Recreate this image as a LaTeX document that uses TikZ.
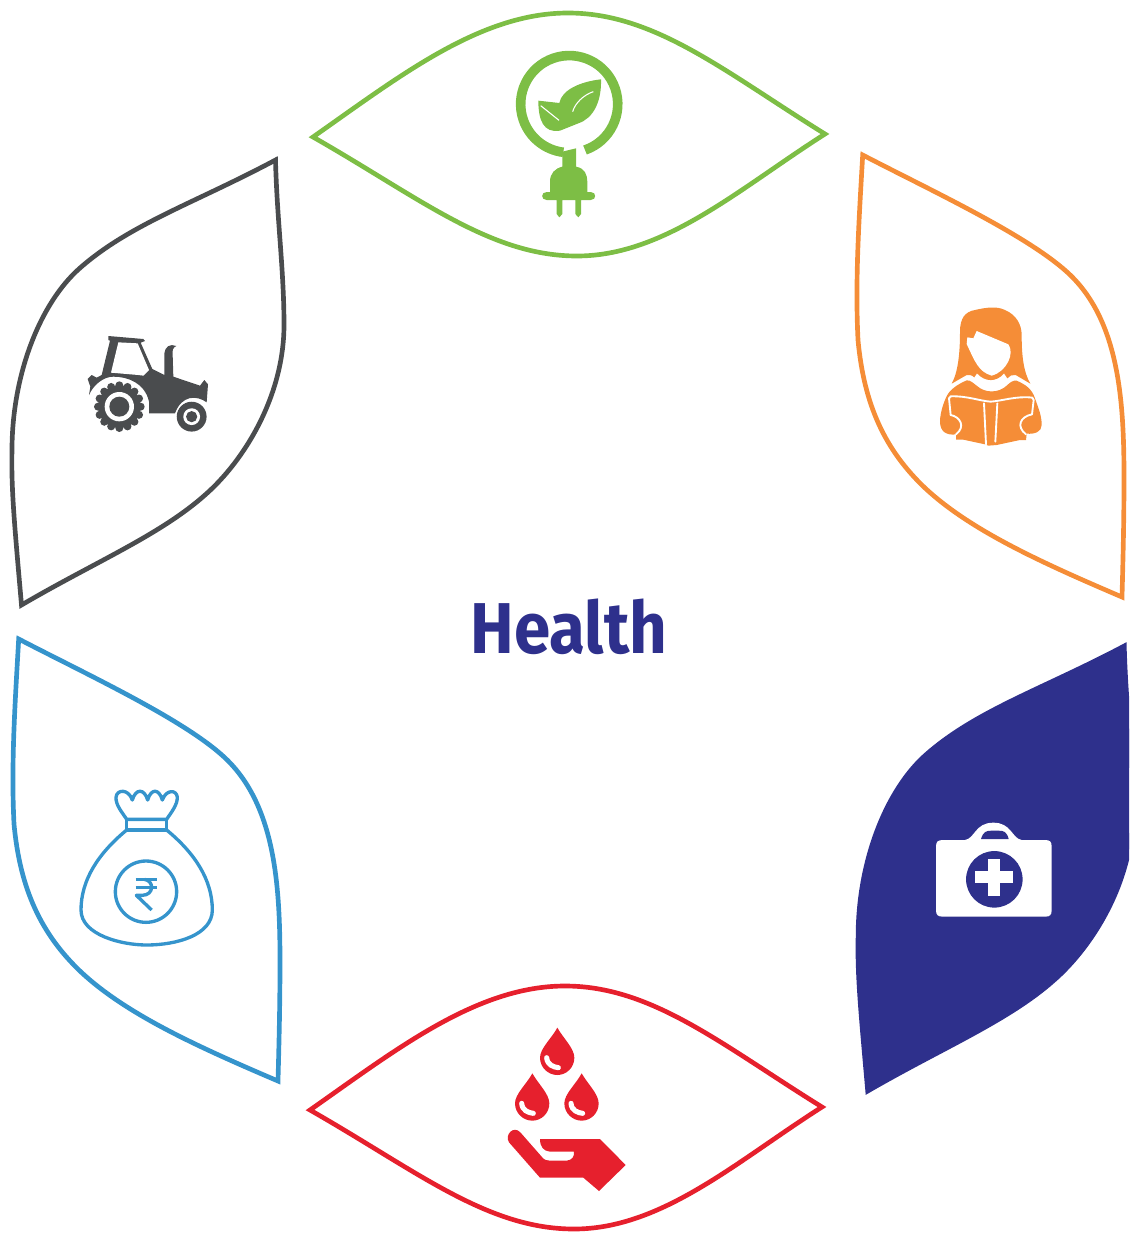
\documentclass[tikz,border=0pt]{standalone}
\usepackage{fontspec}
\setmainfont{Fira Sans}
\newfontfamily\titlefont[FakeStretch=0.91]{Fira Sans}
\definecolor{cgreen}{HTML}{7DBE45}
\definecolor{corange}{HTML}{F58D37}
\definecolor{cnavy}{HTML}{2E308C}
\definecolor{cred}{HTML}{E6202D}
\definecolor{cblue}{HTML}{3594CC}
\definecolor{cdark}{HTML}{4A4C4E}
\tikzset{
  petal/.style={line width=3.5pt,miter limit=20},
  moved/.style n args={2}{shift={(#1*0.75pt,-#2*0.75pt)}},
  zoomat/.style n args={2}{shift={(#1*0.75pt,-#2*0.75pt)},x=0.25pt,y=-0.25pt},
  whiteline/.style={draw=white,line width=1.4pt,line cap=round,line join=round}
}
\newcommand{\leafpetal}{(313,137) .. controls (400,76) and (480,13) .. (568,13)
  .. controls (655,13) and (725,72) .. (825,134)
  .. controls (740,188) and (665,256) .. (577,256)
  .. controls (490,256) and (420,198) .. (313,137) -- cycle}
\newcommand{\fallpetal}{(862.7,155) .. controls (930,190) and (1025,234) .. (1067,272)
  .. controls (1119,319) and (1124,400) .. (1124,478)
  .. controls (1124,520) and (1123,560) .. (1122,597)
  .. controls (1040,562) and (970,530) .. (925,488)
  .. controls (885,450) and (864,405) .. (858,340)
  .. controls (855,280) and (859,220) .. (862.7,155) -- cycle}
\newcommand{\risepetal}{(275.5,160) .. controls (277,220) and (284,270) .. (284,325)
  .. controls (284,395) and (245,460) .. (205,495)
  .. controls (160,535) and (95,562) .. (21.5,605)
  .. controls (15,530) and (11,490) .. (12,450)
  .. controls (12,375) and (40,303) .. (80,268)
  .. controls (130,224) and (195,203) .. (275.5,160) -- cycle}
\newcommand{\blooddrop}[2]{%
  \fill[cred] (#1,#2) .. controls (#1-17,#2+32) and (#1-52,#2+62) .. (#1-52,#2+90)
    .. controls (#1-52,#2+120) and (#1-27,#2+142) .. (#1,#2+142)
    .. controls (#1+27,#2+142) and (#1+51,#2+120) .. (#1+51,#2+90)
    .. controls (#1+51,#2+62) and (#1+18,#2+32) .. (#1,#2) -- cycle;
  \draw[white,line width=3.8pt,line cap=round] (#1-32,#2+90) .. controls (#1-30,#2+112) and (#1-12,#2+118) .. (#1+3,#2+120);
}
\begin{document}
\begin{tikzpicture}[x=0.75pt,y=-0.75pt]
\clip (0,0) rectangle (1129,1235);
% petals
\draw[petal,draw=cgreen] \leafpetal;
\draw[petal,draw=cred,moved={-3}{973}] \leafpetal;
\draw[petal,draw=corange] \fallpetal;
\draw[petal,draw=cblue,moved={-844}{484}] \fallpetal;
\draw[petal,draw=cdark] \risepetal;
\fill[petal,draw=cnavy,fill=cnavy,moved={846}{486},xscale=1.01] \risepetal;
% title
\node[text=cnavy,font=\titlefont\fontsize{54}{60}\selectfont\bfseries,inner sep=0pt] (title) at (569,627) {Health};
% green plug icon
\begin{scope}[zoomat={500}{40}]
  \draw[cgreen,line width=7.2pt] (255,330) arc[start angle=-71,end angle=263,radius=36.4pt];
  \fill[cgreen] (187,335) -- (228,325) -- (228,380)
    .. controls (255,385) and (262,405) .. (262,425) -- (262,456) -- (272,456)
    .. controls (290,456) and (290,480) .. (272,480) -- (243,480) -- (243,522) -- (235,532) -- (226,522) -- (226,480)
    -- (187,480) -- (187,522) -- (178,532) -- (170,522) -- (170,480) -- (140,480)
    .. controls (122,480) and (122,456) .. (140,456) -- (150,456) -- (150,425)
    .. controls (150,400) and (165,385) .. (187,380) -- cycle;
  \fill[cgreen] (115,182) -- (178,189) .. controls (185,150) and (240,125) .. (303,118)
    .. controls (305,185) and (280,235) .. (235,250) -- (180,272)
    .. controls (130,280) and (115,240) .. (115,182) -- cycle;
  \draw[white,line width=.8pt] (122,197) -- (177,241);
  \draw[white,line width=.8pt] (218,215) .. controls (225,190) and (250,165) .. (280,155);
\end{scope}
% orange reader icon
\begin{scope}[zoomat={850}{145}]
  \fill[corange] (305,716) .. controls (325,680) and (330,620) .. (330,560)
    .. controls (330,520) and (345,500) .. (375,495)
    .. controls (410,487) and (440,483) .. (465,495)
    .. controls (500,510) and (515,540) .. (515,570)
    .. controls (515,630) and (520,680) .. (541,716)
    -- (497,690) .. controls (488,688) and (478,692) .. (472,700)
    -- (462,685) .. controls (440,712) and (405,712) .. (381,685)
    -- (373,697) .. controls (365,690) and (355,688) .. (350,690) -- cycle;
  \fill[white] (350,597) -- (352,577) -- (370,580) -- (380,558) -- (475,598)
    .. controls (495,625) and (470,680) .. (425,692)
    .. controls (385,680) and (375,650) .. (350,597) -- cycle;
  \fill[corange] (295,745) .. controls (310,725) and (330,715) .. (350,706)
    .. controls (362,705) and (370,715) .. (380,722)
    .. controls (405,745) and (445,745) .. (470,722)
    .. controls (480,712) and (490,705) .. (500,707)
    .. controls (525,718) and (545,730) .. (555,760)
    .. controls (565,790) and (575,810) .. (575,840)
    .. controls (575,860) and (555,868) .. (530,866)
    -- (528,885) -- (510,885) -- (440,900) -- (415,902) -- (405,898) -- (340,884) -- (318,884) -- (318,868)
    .. controls (290,872) and (270,860) .. (270,830)
    .. controls (270,800) and (285,760) .. (295,745) -- cycle;
  \draw[whiteline] (302,810) -- (297,760) -- (302,754)
    .. controls (350,752) and (390,768) .. (422,770)
    .. controls (455,768) and (500,752) .. (547,758) -- (551,765) -- (546,808);
  \draw[whiteline] (302,810) .. controls (330,815) and (348,845) .. (318,868);
  \draw[whiteline] (546,808) .. controls (510,815) and (498,845) .. (528,868);
  \draw[whiteline] (402,775) -- (408,898);
  \draw[whiteline] (442,775) -- (436,890);
\end{scope}
% medical kit icon
\begin{scope}[zoomat={920}{810}]
  \fill[white] (70,90) -- (135,90) .. controls (165,85) and (165,38) .. (220,38)
    .. controls (275,38) and (275,85) .. (305,90) -- (375,90)
    .. controls (390,90) and (395,95) .. (395,110) -- (395,300)
    .. controls (395,315) and (390,320) .. (375,320) -- (70,320)
    .. controls (53,320) and (48,315) .. (48,300) -- (48,110)
    .. controls (48,95) and (53,90) .. (70,90) -- cycle;
  \fill[cnavy] (183,87) .. controls (190,65) and (198,62) .. (215,62) -- (235,62)
    .. controls (252,62) and (260,65) .. (266,87) -- cycle;
  \fill[cnavy] (223,208) circle[radius=21.2pt];
  \fill[white] (205,147) rectangle (240,258);
  \fill[white] (165,184) rectangle (280,220);
\end{scope}
% blood icon
\begin{scope}[zoomat={495}{1015}]
  \blooddrop{187}{38}
  \blooddrop{112}{175}
  \blooddrop{260}{175}
  \fill[cred] (135,372) -- (315,372) -- (392,450) -- (312,528) -- (265,488) -- (135,488)
    -- (42,382) .. controls (28,360) and (55,330) .. (76,352)
    -- (140,425) .. controls (148,435) and (155,437) .. (165,437)
    -- (215,437) .. controls (232,435) and (238,425) .. (237,410)
    -- (165,410) .. controls (145,408) and (135,395) .. (135,372) -- cycle;
\end{scope}
% money bag icon
\begin{scope}[zoomat={65}{780},draw=cblue,line width=2.5pt,line join=round]
  \draw (185,118) .. controls (170,95) and (152,75) .. (153,52)
    .. controls (155,28) and (190,25) .. (202,60)
    .. controls (212,25) and (238,25) .. (248,60)
    .. controls (258,25) and (282,25) .. (292,60)
    .. controls (303,28) and (335,28) .. (337,52)
    .. controls (337,75) and (320,95) .. (305,118) -- cycle;
  \draw (185,118) rectangle (305,150);
  \draw (185,150) .. controls (100,220) and (48,300) .. (48,390)
    .. controls (48,465) and (170,495) .. (245,495)
    .. controls (335,495) and (442,465) .. (442,390)
    .. controls (442,300) and (390,220) .. (305,150);
  \draw (243,335) circle[radius=23pt];
  \draw (212,298) -- (276,298) (212,322) -- (276,322);
  \draw (238,298) .. controls (268,302) and (268,345) .. (232,346) -- (214,346) -- (260,390);
\end{scope}
% tractor icon
\begin{scope}[zoomat={75}{325}]
  \fill[cdark] (100,33) -- (205,42) -- (210,48) -- (197,53) -- (232,132) -- (268,150) -- (268,85)
    .. controls (270,65) and (285,55) .. (304,63)
    .. controls (292,68) and (292,78) .. (293,90) -- (295,155) -- (375,182) -- (388,165) -- (399,178) -- (395,232)
    .. controls (365,210) and (320,210) .. (300,265) -- (222,265) -- (222,230)
    .. controls (210,175) and (160,155) .. (115,155)
    .. controls (85,155) and (55,180) .. (42,210)
    -- (46,185) -- (38,162) -- (50,150) -- (65,158) -- (80,150) -- (105,47) -- (100,45) -- cycle;
  \fill[white] (130,52) -- (188,55) -- (222,135) -- (205,152) -- (190,150) -- (108,143) -- cycle;
  \fill[cdark] (133,245) circle[radius=16pt];
  \foreach \a in {0,22.5,...,337.5} {
    \fill[cdark] (133,245) ++(\a:64) circle[radius=3pt];
  }
  \fill[white] (133,245) circle[radius=11pt];
  \fill[cdark] (133,245) circle[radius=7.5pt];
  \fill[cdark] (350,275) circle[radius=11.2pt];
  \fill[white] (350,275) circle[radius=6.3pt];
  \fill[cdark] (350,275) circle[radius=4.2pt];
\end{scope}
\end{tikzpicture}
\end{document}
